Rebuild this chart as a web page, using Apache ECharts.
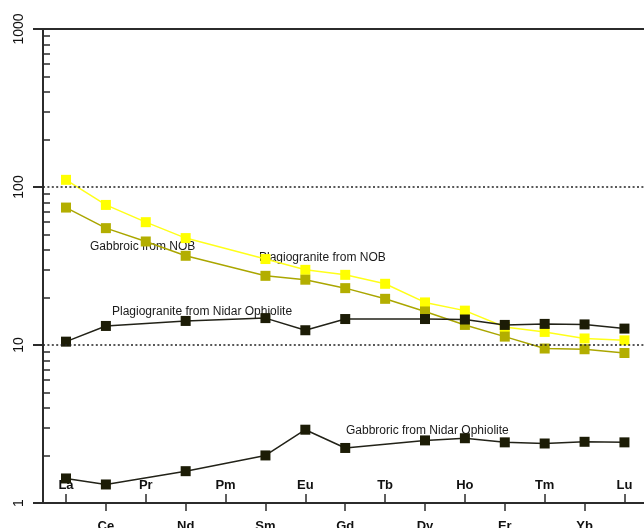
<!DOCTYPE html>
<html>
<head>
<meta charset="utf-8">
<script src="https://cdn.jsdelivr.net/npm/echarts@6/dist/echarts.min.js"></script>
<style>
  html, body { margin: 0; padding: 0; background: #ffffff; }
  #chart { width: 644px; height: 528px; }
</style>
</head>
<body>
<div id="chart"></div>
<script>
// Rare earth element order along the horizontal axis
const elements = ['La', 'Ce', 'Pr', 'Nd', 'Pm', 'Sm', 'Eu', 'Gd', 'Tb', 'Dy', 'Ho', 'Er', 'Tm', 'Yb', 'Lu'];

// Chondrite-normalised abundances (null = not analysed)
const plagioNOB   = [111, 77, 59.9, 47.5, null, 35, 29.9, 27.8, 24.4, 18.6, 16.5, 13.0, 12.1, 11.0, 10.7];
const gabbroNOB   = [74.1, 54.9, 45.2, 36.7, null, 27.4, 25.9, 22.9, 19.6, 16.3, 13.4, 11.3, 9.5, 9.4, 8.9];
const plagioNidar = [10.5, 13.2, null, 14.2, null, 14.8, 12.4, 14.6, null, 14.6, 14.5, 13.4, 13.6, 13.5, 12.7];
const gabbroNidar = [1.43, 1.31, null, 1.59, null, 2.0, 2.91, 2.23, null, 2.49, 2.57, 2.42, 2.38, 2.44, 2.42];

// Axis tick positions
const upperLabelIdx = [0, 2, 4, 6, 8, 10, 12, 14];
const lowerLabelIdx = [1, 3, 5, 7, 9, 11, 13];
const decadeLabels  = [1, 10, 100, 1000];
const minorTicks    = [2, 3, 4, 5, 6, 7, 8, 9, 20, 30, 40, 50, 60, 70, 80, 90, 200, 300, 400, 500, 600, 700, 800, 900];
const refLines      = [10, 100];

const toPairs = vals => vals.map((v, i) => (v == null ? null : [i, v])).filter(p => p !== null);

const AXIS_COLOR = '#2b2b2b';
const FONT = '"Liberation Sans", Arial, sans-serif';
const X_MIN = -0.5766, X_MAX = 14.49;

const gridBox = { left: 43, right: 0, top: 29, bottom: 25, containLabel: false, outerBoundsMode: 'none' };

const chart = echarts.init(document.getElementById('chart'), null, { renderer: 'canvas' });

function lineSeries(name, vals, color, lineColor, z) {
  return {
    name: name,
    type: 'line',
    xAxisIndex: 0,
    yAxisIndex: 0,
    data: toPairs(vals),
    symbol: 'rect',
    symbolSize: 10,
    z: z,
    itemStyle: { color: color, borderWidth: 0 },
    lineStyle: { color: lineColor, width: 1.5 },
    emphasis: { disabled: true }
  };
}

const series = [
  lineSeries('Plagiogranite from NOB', plagioNOB, '#ffff00', '#ffff1a', 2),
  lineSeries('Gabbroic from NOB', gabbroNOB, '#b3ae00', '#aaa600', 3),
  lineSeries('Plagiogranite from Nidar Ophiolite', plagioNidar, '#1c1c06', '#222218', 4),
  lineSeries('Gabbroric from Nidar Ophiolite', gabbroNidar, '#1c1c06', '#222218', 4)
];

series[0].markLine = {
  silent: true,
  symbol: 'none',
  label: { show: false },
  lineStyle: { color: '#222222', width: 1.6, type: [2, 2.4] },
  data: refLines.map(v => ({ yAxis: v }))
};

const option = {
  animation: false,
  backgroundColor: '#ffffff',
  grid: [
    Object.assign({}, gridBox),
    Object.assign({}, gridBox)
  ],
  xAxis: [
    {
      // bottom axis: upper row of element names, ticks pointing inward
      type: 'value', gridIndex: 0, position: 'bottom', min: X_MIN, max: X_MAX,
      axisLine: { show: true, onZero: false, lineStyle: { color: AXIS_COLOR, width: 2 } },
      axisTick: { show: true, inside: true, length: 9, customValues: upperLabelIdx,
                  lineStyle: { color: AXIS_COLOR, width: 1.5 } },
      axisLabel: { show: true, inside: true, margin: 11, customValues: upperLabelIdx,
                   formatter: v => elements[Math.round(v)],
                   color: '#111', fontSize: 13, fontWeight: 'bold', fontFamily: FONT },
      splitLine: { show: false }
    },
    {
      // top border
      type: 'value', gridIndex: 0, position: 'top', min: X_MIN, max: X_MAX,
      axisLine: { show: true, onZero: false, lineStyle: { color: AXIS_COLOR, width: 2 } },
      axisTick: { show: false }, axisLabel: { show: false }, splitLine: { show: false }
    },
    {
      // bottom axis: lower row of element names, ticks pointing outward
      type: 'value', gridIndex: 1, position: 'bottom', min: X_MIN, max: X_MAX,
      axisLine: { show: false, onZero: false },
      axisTick: { show: true, inside: false, length: 8, customValues: lowerLabelIdx,
                  lineStyle: { color: AXIS_COLOR, width: 1.5 } },
      axisLabel: { show: true, margin: 17, customValues: lowerLabelIdx,
                   formatter: v => elements[Math.round(v)],
                   color: '#111', fontSize: 13, fontWeight: 'bold', fontFamily: FONT },
      splitLine: { show: false }
    }
  ],
  yAxis: [
    {
      type: 'log', logBase: 10, gridIndex: 0, position: 'left', min: 1, max: 1000,
      axisLine: { show: true, onZero: false, lineStyle: { color: AXIS_COLOR, width: 2 } },
      axisTick: { show: true, inside: false, length: 10, customValues: decadeLabels,
                  lineStyle: { color: AXIS_COLOR, width: 2 } },
      axisLabel: { show: true, rotate: 90, margin: 17, customValues: decadeLabels,
                   formatter: v => String(Math.round(v)),
                   color: '#111', fontSize: 14, fontFamily: FONT },
      splitLine: { show: false }
    },
    {
      type: 'log', logBase: 10, gridIndex: 1, position: 'left', min: 1, max: 1000,
      axisLine: { show: false, onZero: false },
      axisTick: { show: true, inside: true, length: 7, customValues: minorTicks,
                  lineStyle: { color: AXIS_COLOR, width: 1.5 } },
      axisLabel: { show: false },
      splitLine: { show: false }
    }
  ],
  series: series,
  graphic: [
    { type: 'text', left: 90, top: 241, silent: true,
      style: { text: 'Gabbroic from NOB', font: '12px ' + FONT, fill: '#1a1a1a' } },
    { type: 'text', left: 259, top: 252, silent: true,
      style: { text: 'Plagiogranite from NOB', font: '12px ' + FONT, fill: '#1a1a1a' } },
    { type: 'text', left: 112, top: 306, silent: true,
      style: { text: 'Plagiogranite from Nidar Ophiolite', font: '12px ' + FONT, fill: '#1a1a1a' } },
    { type: 'text', left: 346, top: 425, silent: true,
      style: { text: 'Gabbroric from Nidar Ophiolite', font: '12px ' + FONT, fill: '#1a1a1a' } }
  ]
};

chart.setOption(option);
</script>
</body>
</html>
